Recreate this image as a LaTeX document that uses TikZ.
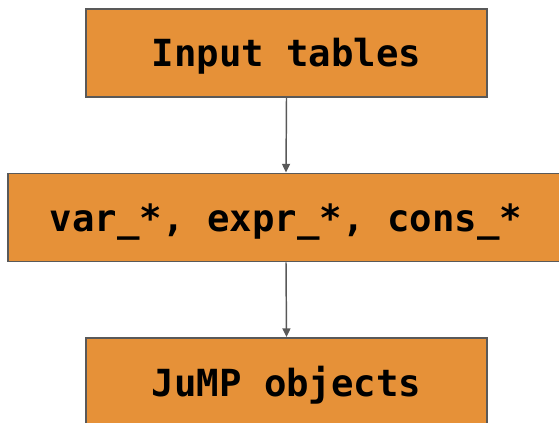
\documentclass[tikz,border=0pt]{standalone}
\usepackage{fontspec}
\setmonofont{DejaVu Sans Mono}
\usetikzlibrary{arrows.meta}
\definecolor{boxfill}{HTML}{E69138}
\definecolor{edgegray}{HTML}{595959}
\tikzset{
  stage/.style={draw=edgegray, line width=1.4pt, fill=boxfill, rectangle,
    minimum height=66pt, inner sep=0pt,
    font=\ttfamily\bfseries\fontsize{28}{33}\selectfont,
    text height=21pt, text depth=0pt},
  flow/.style={draw=edgegray, line width=1.1pt,
    -{Triangle[length=6.5pt,width=6pt]}}
}
\begin{document}
\begin{tikzpicture}[x=0.75pt, y=-0.75pt]
  \useasboundingbox (0,0) rectangle (559,423);
  \node[stage, minimum width=300.75pt] (inp) at (286.5,53) {Input tables};
  \node[stage, minimum width=417pt] (vars) at (286,217.5) {var\_*, expr\_*, cons\_*};
  \node[stage, minimum width=300.75pt] (jump) at (286.5,382) {JuMP objects};
  \draw[flow] (inp.south) -- (vars.north);
  \draw[flow] (vars.south) -- (jump.north);
\end{tikzpicture}
\end{document}
